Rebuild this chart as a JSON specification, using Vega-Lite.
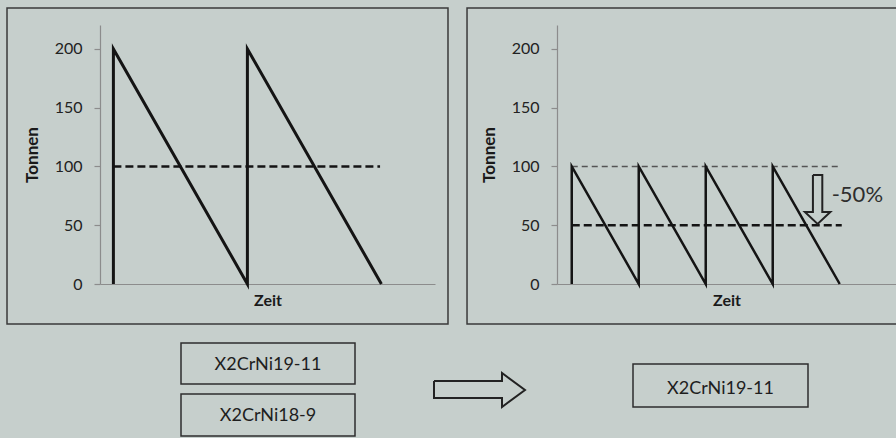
{
  "$schema": "https://vega.github.io/schema/vega-lite/v6.json",
  "background": "#c6cfcc",
  "padding": {"left": 6, "top": 4, "right": 0, "bottom": 0},
  "spacing": 11,
  "config": {
    "view": {"stroke": null},
    "font": "Lato",
    "axis": {"domainColor": "#8c8c8c", "domainWidth": 1.2, "tickColor": "#8c8c8c", "tickWidth": 1.2, "grid": false, "labelFont": "Lato", "labelFontSize": 16, "labelColor": "#222222", "titleFont": "Lato", "titleFontWeight": "bold", "titleColor": "#1a1a1a", "titleFontSize": 16},
    "axisY": {"tickSize": 6, "labelPadding": 12, "titlePadding": 13, "titleFontSize": 17},
    "axisX": {"labels": false, "ticks": false, "titlePadding": 8}
  },
  "vconcat": [
    {
      "bounds": "flush",
      "spacing": 122,
      "hconcat": [
        {
          "width": 335,
          "height": 259,
          "encoding": {
            "x": {"field": "x", "type": "quantitative", "scale": {"domain": [0, 5], "nice": false, "zero": false}, "axis": {"title": "Zeit"}},
            "y": {"field": "y", "type": "quantitative", "scale": {"domain": [0, 220.4], "nice": false, "zero": false}, "axis": {"title": "Tonnen", "values": [0, 50, 100, 150, 200]}}
          },
          "layer": [
            {
              "data": {"values": [{"x": -1.388, "x2": 5.194, "y": -34.0, "y2": 234.9}]},
              "mark": {"type": "rect", "fill": null, "stroke": "#3a3a3a", "strokeWidth": 1.5},
              "encoding": {"x2": {"field": "x2"}, "y2": {"field": "y2"}}
            },
            {
              "data": {"values": [{"x": 0.2, "y": 100}, {"x": 4.18, "y": 100}]},
              "mark": {"type": "line", "color": "#141414", "strokeWidth": 2.5, "strokeDash": [8, 4]}
            },
            {
              "data": {"values": [
                {"x": 0.2, "y": 0, "i": 0}, {"x": 0.2, "y": 200, "i": 1},
                {"x": 2.2, "y": 0, "i": 2}, {"x": 2.2, "y": 200, "i": 3},
                {"x": 4.2, "y": 0, "i": 4}
              ]},
              "mark": {"type": "line", "color": "#141414", "strokeWidth": 3},
              "encoding": {"order": {"field": "i", "type": "quantitative"}}
            }
          ]
        },
        {
          "width": 339,
          "height": 259,
          "encoding": {
            "x": {"field": "x", "type": "quantitative", "scale": {"domain": [0, 5.06], "nice": false, "zero": false}, "axis": {"title": "Zeit"}},
            "y": {"field": "y", "type": "quantitative", "scale": {"domain": [0, 220.4], "nice": false, "zero": false}, "axis": {"title": "Tonnen", "values": [0, 50, 100, 150, 200]}}
          },
          "layer": [
            {
              "data": {"values": [
                {"x": 5.06, "y": 234.9, "i": 0}, {"x": -1.343, "y": 234.9, "i": 1},
                {"x": -1.343, "y": -34.0, "i": 2}, {"x": 5.06, "y": -34.0, "i": 3}
              ]},
              "mark": {"type": "line", "color": "#3a3a3a", "strokeWidth": 1.5},
              "encoding": {"order": {"field": "i", "type": "quantitative"}}
            },
            {
              "data": {"values": [{"x": 0.22, "y": 100}, {"x": 4.25, "y": 100}]},
              "mark": {"type": "line", "color": "#555555", "strokeWidth": 1.5, "strokeDash": [6, 4]}
            },
            {
              "data": {"values": [{"x": 0.22, "y": 50}, {"x": 4.25, "y": 50}]},
              "mark": {"type": "line", "color": "#141414", "strokeWidth": 2.5, "strokeDash": [8, 4]}
            },
            {
              "data": {"values": [
                {"x": 0.22, "y": 0, "i": 0}, {"x": 0.22, "y": 100, "i": 1},
                {"x": 1.22, "y": 0, "i": 2}, {"x": 1.22, "y": 100, "i": 3},
                {"x": 2.22, "y": 0, "i": 4}, {"x": 2.22, "y": 100, "i": 5},
                {"x": 3.22, "y": 0, "i": 6}, {"x": 3.22, "y": 100, "i": 7},
                {"x": 4.22, "y": 0, "i": 8}
              ]},
              "mark": {"type": "line", "color": "#141414", "strokeWidth": 2.5},
              "encoding": {"order": {"field": "i", "type": "quantitative"}}
            },
            {
              "data": {"values": [
                {"x": 3.82, "y": 92.8, "i": 0}, {"x": 3.96, "y": 92.8, "i": 1},
                {"x": 3.96, "y": 61.3, "i": 2}, {"x": 4.08, "y": 61.3, "i": 3},
                {"x": 3.89, "y": 51.1, "i": 4}, {"x": 3.70, "y": 61.3, "i": 5},
                {"x": 3.82, "y": 61.3, "i": 6}, {"x": 3.82, "y": 92.8, "i": 7}
              ]},
              "mark": {"type": "line", "color": "#222222", "strokeWidth": 2, "strokeJoin": "miter"},
              "encoding": {"order": {"field": "i", "type": "quantitative"}}
            },
            {
              "data": {"values": [{"x": 4.1, "y": 75.7, "t": "-50%"}]},
              "mark": {"type": "text", "align": "left", "baseline": "middle", "fontSize": 22, "font": "Lato", "color": "#2e2e2e"},
              "encoding": {"text": {"field": "t"}}
            }
          ]
        }
      ]
    },
    {
      "width": 796,
      "height": 100,
      "encoding": {
        "x": {"field": "x", "type": "quantitative", "scale": {"domain": [0, 796], "nice": false, "zero": false}, "axis": null},
        "y": {"field": "y", "type": "quantitative", "scale": {"domain": [0, 100], "nice": false, "zero": false, "reverse": true}, "axis": null}
      },
      "layer": [
        {
          "data": {"values": [
            {"x": 81, "x2": 255, "y": 5, "y2": 46},
            {"x": 81, "x2": 255, "y": 56, "y2": 98},
            {"x": 533, "x2": 708, "y": 26, "y2": 69}
          ]},
          "mark": {"type": "rect", "fill": null, "stroke": "#2e2e2e", "strokeWidth": 1.5},
          "encoding": {"x2": {"field": "x2"}, "y2": {"field": "y2"}}
        },
        {
          "data": {"values": [
            {"x": 168, "y": 27, "t": "X2CrNi19-11"},
            {"x": 168, "y": 78, "t": "X2CrNi18-9"},
            {"x": 620.5, "y": 51, "t": "X2CrNi19-11"}
          ]},
          "mark": {"type": "text", "align": "center", "baseline": "middle", "fontSize": 18, "font": "Lato", "color": "#1e1e1e"},
          "encoding": {"text": {"field": "t"}}
        },
        {
          "data": {"values": [
            {"x": 334, "y": 43, "i": 0}, {"x": 402, "y": 43, "i": 1},
            {"x": 402, "y": 35, "i": 2}, {"x": 425, "y": 52, "i": 3},
            {"x": 402, "y": 69, "i": 4}, {"x": 402, "y": 60, "i": 5},
            {"x": 334, "y": 60, "i": 6}, {"x": 334, "y": 43, "i": 7}
          ]},
          "mark": {"type": "line", "color": "#222222", "strokeWidth": 2, "strokeJoin": "miter"},
          "encoding": {"order": {"field": "i", "type": "quantitative"}}
        }
      ]
    }
  ]
}
